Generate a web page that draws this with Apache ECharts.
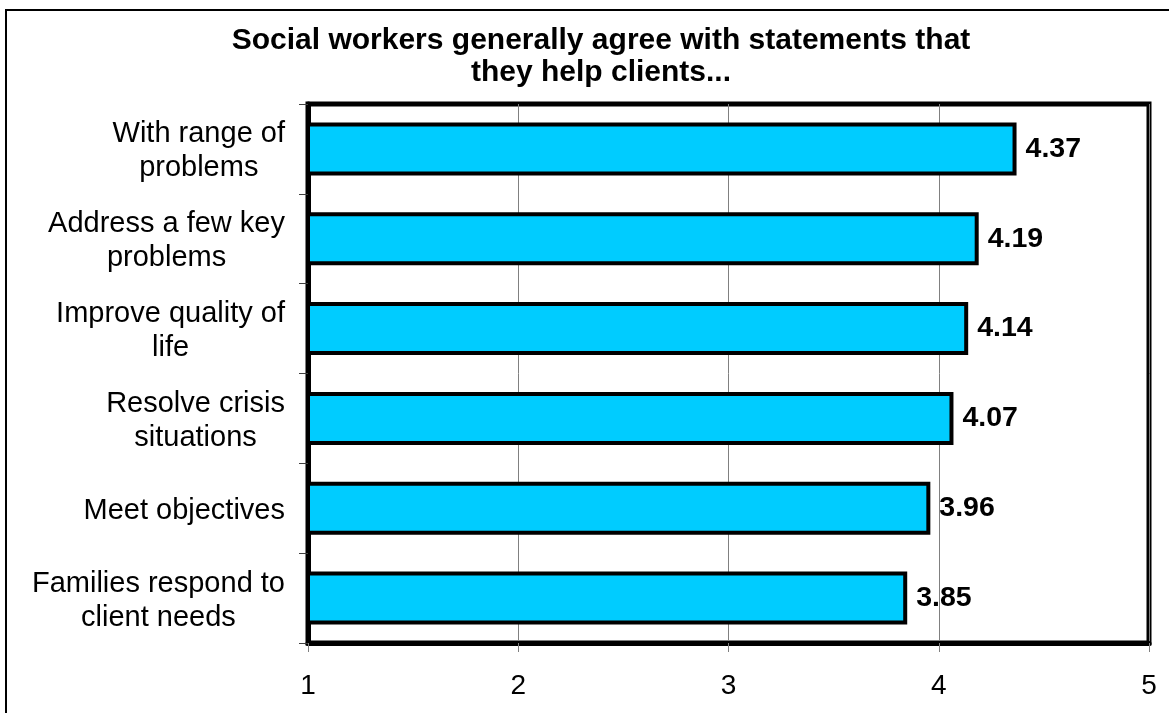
<!DOCTYPE html>
<html>
<head>
<meta charset="utf-8">
<script src="https://cdn.jsdelivr.net/npm/echarts@6/dist/echarts.min.js"></script>
<style>
html,body{margin:0;padding:0;background:#fff;}
#chart{width:1169px;height:713px;}
</style>
</head>
<body>
<div id="chart"></div>
<script>
var titleLines = ['Social workers generally agree with statements that', 'they help clients...'];
var categories = [
  'With range of\nproblems',
  'Address a few key\nproblems',
  'Improve quality of\nlife',
  'Resolve crisis\nsituations',
  'Meet objectives',
  'Families respond to\nclient needs'
];
var values = [4.37, 4.19, 4.14, 4.07, 3.96, 3.85];
var xMin = 1, xMax = 5, xStep = 1;

var FONT = '"Liberation Sans", Arial, sans-serif';
var chart = echarts.init(document.getElementById('chart'));
chart.setOption({
  backgroundColor: '#ffffff',
  animation: false,
  graphic: [
    {
      type: 'rect', z: 0,
      shape: {x: 6, y: 10, width: 1300, height: 800},
      style: {fill: 'none', stroke: '#000', lineWidth: 2}
    },
    {
      type: 'text', z: 10,
      x: 601, y: 25,
      style: {
        text: titleLines.join('\n'),
        fontFamily: FONT, fontSize: 30, fontWeight: 'bold',
        fill: '#000', textAlign: 'center', textVerticalAlign: 'top',
        lineHeight: 32
      }
    }
  ],
  grid: {
    left: 308, right: 20, top: 104, bottom: 70,
    show: true, borderColor: '#000', borderWidth: 5, backgroundColor: 'transparent',
    containLabel: false
  },
  xAxis: {
    type: 'value', min: xMin, max: xMax, interval: xStep,
    axisLine: {show: true, lineStyle: {color: '#000', width: 5}},
    axisTick: {show: true, length: 9, lineStyle: {color: '#808080', width: 1}},
    splitLine: {show: true, lineStyle: {color: '#808080', width: 1}},
    axisLabel: {fontFamily: FONT, fontSize: 28, color: '#000', margin: 29}
  },
  yAxis: {
    type: 'category', data: categories, inverse: true,
    axisLine: {show: true, lineStyle: {color: '#000', width: 5}},
    axisTick: {show: true, length: 9, lineStyle: {color: '#404040', width: 1}},
    axisLabel: {
      margin: 23,
      padding: [5, 0, 0, 0],
      formatter: function (v) {
        return v.split('\n').map(function (l) { return '{c|' + l + '}'; }).join('\n');
      },
      rich: {
        c: {fontFamily: FONT, fontSize: 29, color: '#000', align: 'center', lineHeight: 34}
      }
    }
  },
  series: [{
    type: 'bar',
    data: values,
    barCategoryGap: '41%',
    itemStyle: {color: '#00CCFF', borderColor: '#000', borderWidth: 4},
    label: {
      show: true, position: 'right', distance: 9,
      fontFamily: FONT, fontSize: 28.5, fontWeight: 'bold', color: '#000',
      formatter: function (p) { return p.value.toFixed(2); }
    }
  }]
});
</script>
</body>
</html>
